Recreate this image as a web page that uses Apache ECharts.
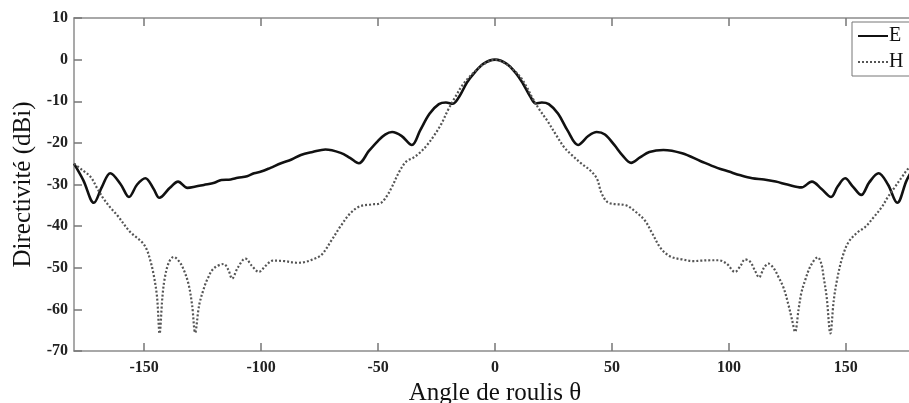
<!DOCTYPE html>
<html lang="fr">
<head>
  <meta charset="UTF-8" />
  <title>Directivité E / H</title>
  <script src="https://cdn.jsdelivr.net/npm/echarts@6.0.0/dist/echarts.min.js"></script>
  <style>
    body { margin: 0; background: #fff; }
    #chart { width: 909px; height: 403px; }
  </style>
</head>
<body>
  <div id="chart"></div>
  <script>
    // plan E (trait plein)
    const eAngles = [-180, -176, -171.5, -168, -164.5, -160, -156.5, -153, -149.5, -146, -143.5, -139, -135.5, -131.5, -128, -124.5, -120, -117, -113, -110, -106, -103, -100, -96, -91.5, -87, -83, -78, -72.5, -66, -62, -58.2, -54, -50, -47, -44, -40, -35.5, -32, -28, -24, -21, -18, -15, -12, -9, -5, 0, 5, 9, 12, 15, 17.5, 20, 23, 27, 31, 35.5, 40, 43.5, 47, 51, 54.5, 58.2, 62, 66, 72, 80, 88, 95, 100, 105, 110, 115, 120, 125, 131, 135.5, 139.5, 143.7, 146.5, 149.7, 153, 156.6, 160, 164, 168, 172, 176, 180];
    const eValues = [-25, -29, -34.4, -30.5, -27.3, -30, -33, -30, -28.5, -31, -33.2, -30.8, -29.3, -30.8, -30.5, -30.1, -29.6, -28.9, -28.8, -28.4, -28, -27.3, -26.9, -26, -24.9, -24, -22.9, -22.2, -21.6, -22.4, -23.6, -24.9, -22, -19.5, -18, -17.4, -18.3, -20.5, -17, -13, -10.7, -10.3, -10.6, -8.6, -5.5, -3.3, -1, 0, -1, -3.3, -5.8, -8.8, -10.5, -10.3, -10.7, -13, -17, -20.5, -18.3, -17.4, -18, -20.5, -23, -24.8, -23.5, -22.2, -21.7, -22.5, -24.4, -26, -26.9, -27.8, -28.5, -28.8, -29.3, -30, -30.7, -29.3, -31, -33, -30.5, -28.5, -30.5, -32.5, -29.5, -27.3, -30, -34.4, -29, -25];

    // plan H (pointillés)
    const hAngles = [-180, -176.5, -173, -170, -167.5, -164.5, -161.5, -156, -151, -149, -147.5, -146, -144.5, -143.4, -142.2, -141.2, -139.5, -137.4, -135, -133, -131, -129.5, -128.2, -126.5, -124.5, -123, -120.3, -116, -114, -112.4, -110, -106.7, -104, -101, -98, -95, -90, -85, -82, -77, -74, -70, -66, -62, -58, -53, -49, -46.5, -44, -41, -38, -35, -32, -29, -26, -23, -20, -17, -14, -11, -8, -4, 0, 4, 8, 11, 13.5, 16, 19, 22.5, 26, 29.5, 33, 37, 40.5, 43.5, 45.5, 48, 51, 56, 60, 64, 67, 71, 75, 80, 85, 88, 92, 95.5, 99, 102.6, 105, 106.9, 109, 111, 112.9, 115, 116.9, 119, 121.2, 123.5, 125.5, 127, 128.3, 129.8, 131, 132.6, 135, 138, 139.5, 140.5, 141.8, 143.4, 144.8, 146.2, 148.5, 151.2, 155, 158.3, 162, 165.4, 168, 171, 174, 177, 180];
    const hValues = [-25, -26.5, -28.1, -31, -33.3, -35.5, -37.4, -41.4, -43.8, -45.5, -48, -51.5, -57, -65.8, -57, -52.5, -48.8, -47.4, -48.5, -50.6, -54, -59, -65.6, -59, -55, -52.8, -50.2, -49.1, -50.5, -52.6, -50, -47.8, -49.5, -51, -49.5, -48.3, -48.4, -48.8, -48.7, -47.8, -46.8, -43.5, -40, -37, -35.3, -34.8, -34.5, -33, -30.5, -27, -24.5, -23.6, -22.3, -20.5, -18.2, -15.5, -12, -9, -6.2, -4.2, -2.5, -0.8, 0, -0.8, -2.5, -4.3, -6.5, -9.2, -12, -14.8, -18, -21, -23, -25, -26.5, -28.5, -32, -34.2, -34.7, -35, -36.5, -38.6, -41.5, -45.4, -47.3, -48, -48.4, -48.3, -48.2, -48.2, -49, -51, -49.5, -48, -48.5, -50.5, -52.3, -50, -49, -50, -52.2, -55, -59, -62.5, -65.4, -60, -56, -53, -49.5, -47.5, -49, -52.2, -57, -65.8, -58, -53, -47.5, -43.8, -41.5, -40.2, -37.8, -35.4, -33, -30.6, -28.2, -26, -25];

    const xTicks = [-150, -100, -50, 0, 50, 100, 150];

    const serif = '"Liberation Serif", "DejaVu Serif", serif';
    const axisGrey = '#8c8c8c';

    const chart = echarts.init(document.getElementById('chart'));
    chart.setOption({
      backgroundColor: '#fff',
      animation: false,
      grid: { left: 74, top: 18, width: 842, height: 333, outerBoundsMode: 'none', containLabel: false },
      legend: {
        orient: 'vertical',
        left: 852, top: 22,
        padding: [4, 30, 4, 5],
        itemWidth: 30, itemHeight: 10, itemGap: 6,
        itemStyle: { opacity: 0 },
        borderColor: '#777', borderWidth: 1,
        textStyle: { fontFamily: serif, fontSize: 20, color: '#111', padding: [0, 0, 0, -4] },
        data: ['E', 'H']
      },
      xAxis: [{
        type: 'value', min: -180, max: 180,
        name: 'Angle de roulis θ', nameLocation: 'middle', nameGap: 24,
        nameTextStyle: { fontFamily: serif, fontSize: 25, color: '#111' },
        axisLine: { show: true, onZero: false, lineStyle: { color: axisGrey, width: 1.5 } },
        axisTick: { show: true, inside: true, length: 8, customValues: xTicks, lineStyle: { color: '#777', width: 1.5 } },
        axisLabel: { customValues: xTicks, margin: 9, fontFamily: serif, fontWeight: 'bold', fontSize: 16, color: '#222' },
        splitLine: { show: false }
      }, {
        type: 'value', position: 'top', min: -180, max: 180,
        axisLine: { show: true, onZero: false, lineStyle: { color: axisGrey, width: 1.5 } },
        axisTick: { show: true, inside: true, length: 8, customValues: xTicks, lineStyle: { color: '#777', width: 1.5 } },
        axisLabel: { show: false },
        splitLine: { show: false }
      }],
      yAxis: [{
        type: 'value', min: -70, max: 10, interval: 10,
        name: 'Directivité (dBi)', nameLocation: 'middle', nameGap: 36,
        nameTextStyle: { fontFamily: serif, fontSize: 25, color: '#111' },
        axisLine: { show: true, onZero: false, lineStyle: { color: axisGrey, width: 1.5 } },
        axisTick: { show: true, inside: true, length: 8, lineStyle: { color: '#777', width: 1.5 } },
        axisLabel: { margin: 6, fontFamily: serif, fontWeight: 'bold', fontSize: 16, color: '#222' },
        splitLine: { show: false }
      }],
      series: [{
        name: 'E', type: 'line', symbol: 'none', smooth: 0.35,
        lineStyle: { color: '#111', width: 2.6 },
        itemStyle: { color: '#111' },
        data: eAngles.map((a, i) => [a, eValues[i]])
      }, {
        name: 'H', type: 'line', symbol: 'none', smooth: 0.35,
        lineStyle: { color: '#555', width: 2.2, type: [2, 2] },
        itemStyle: { color: '#555' },
        data: hAngles.map((a, i) => [a, hValues[i]])
      }]
    });
  </script>
</body>
</html>
